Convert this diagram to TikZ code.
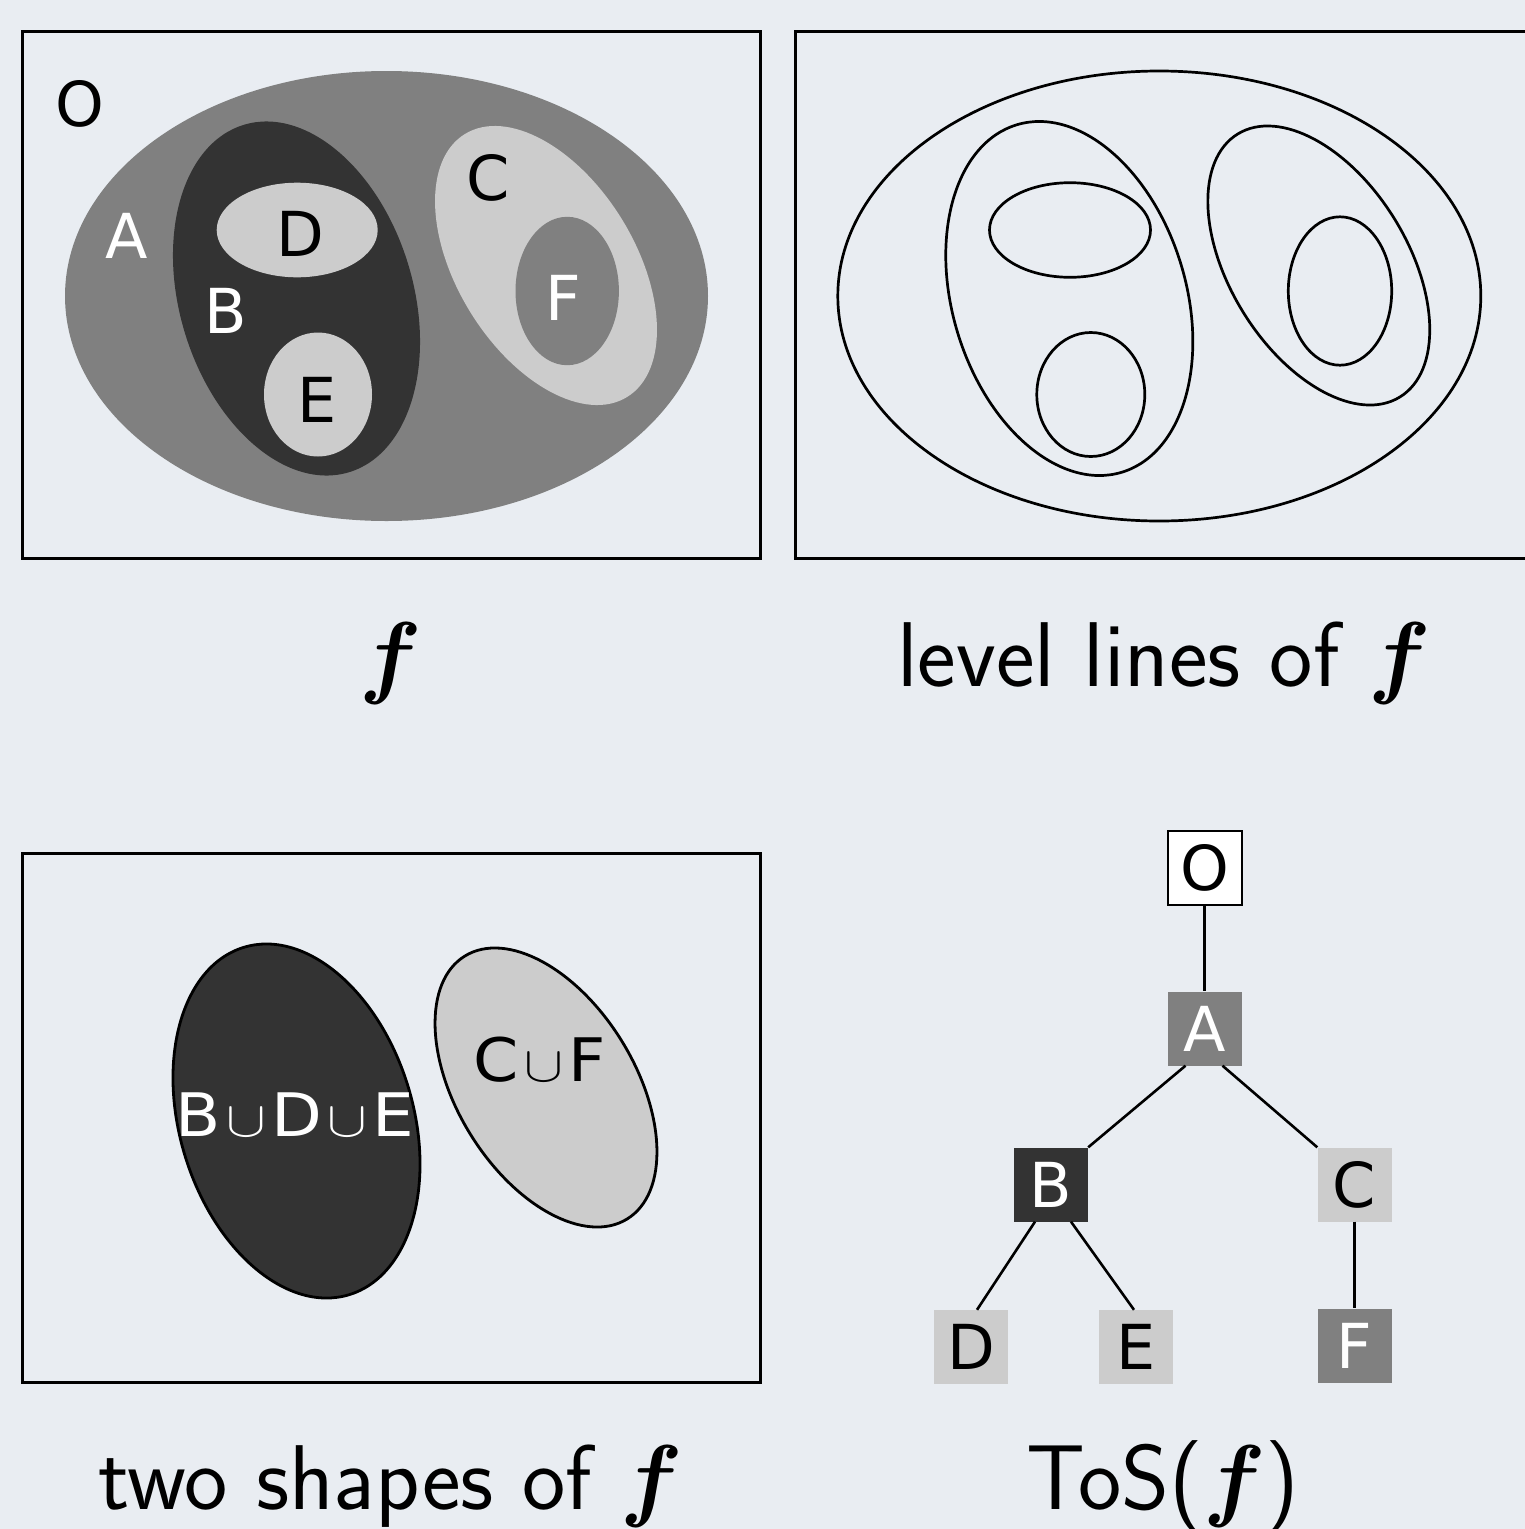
\documentclass[tikz,border=0pt]{standalone}
\usepackage{fontspec}
\newfontfamily\labfont{DejaVu Sans}
\definecolor{bg}{RGB}{233,237,242}
\definecolor{dk}{RGB}{51,51,51}
\definecolor{md}{RGB}{128,128,128}
\definecolor{lt}{RGB}{204,204,204}
\newcommand\cupx{\kern5pt{\fontsize{10}{12}\selectfont\scalebox{5.4}[5.0]{$\mathord{\cup}$}}\kern5pt}
\newcommand\bff{{\fontsize{10}{12}\selectfont\scalebox{9.2}{\boldmath$f$}}}
\begin{document}
\begin{tikzpicture}[x=1pt,y=-1pt,
  lab/.style={font=\labfont\fontsize{62}{70}\selectfont, inner sep=0pt},
  lab3/.style={font=\labfont\fontsize{60}{70}\selectfont, inner sep=0pt},
  captxt/.style={font=\sffamily\fontsize{92}{110}\selectfont, anchor=base, inner sep=0pt},
  panelframe/.style={draw=black, line width=3pt},
  lvl/.style={draw=black, line width=2.7pt},
  outl/.style={draw=black, line width=2.8pt},
  tbox/.style={minimum width=74pt, minimum height=74pt, inner sep=0pt, font=\labfont\fontsize{62}{70}\selectfont},
  tedge/.style={draw=black, line width=2.6pt}]
\fill[bg] (0,0) rectangle (1525,1529);
\useasboundingbox (0,0) rectangle (1525,1529);

% ---------- panel 1: f ----------
\draw[panelframe] (22.5,31) rectangle (760,558.5);
\fill[md] (386.5,296) ellipse [x radius=321.5, y radius=225];
\fill[dk, rotate around={-73.2:(296.5,298.5)}] (296.5,298.5) ellipse [x radius=181.5, y radius=116.8];
\fill[lt] (297.2,230) ellipse [x radius=80.5, y radius=47.3];
\fill[lt] (318,394.5) ellipse [x radius=54, y radius=62];
\fill[lt, rotate around={-58.3:(546,265.5)}] (546,265.5) ellipse [x radius=154.5, y radius=88.9];
\fill[md] (567.2,291) ellipse [x radius=51.7, y radius=74.2];
\node[lab] (lO) at (80,103.5) {O};
\node[lab, text=white] (lA) at (127,236) {A};
\node[lab] (lD) at (300,234) {D};
\node[lab, text=white] (lB) at (225.5,310.5) {B};
\node[lab] (lC) at (488,177.5) {C};
\node[lab, text=white] (lF) at (563.5,297.5) {F};
\node[lab] (lE) at (317,400) {E};

% ---------- panel 2: level lines ----------
\draw[panelframe] (1528,31) -| (795,558.5) -- (1528,558.5);
\begin{scope}[xshift=772.8pt]
\draw[lvl] (386.5,296) ellipse [x radius=321.5, y radius=225];
\draw[lvl, rotate around={-73.2:(296.5,298.5)}] (296.5,298.5) ellipse [x radius=181.5, y radius=116.8];
\draw[lvl] (297.2,230) ellipse [x radius=80.5, y radius=47.3];
\draw[lvl] (318,394.5) ellipse [x radius=54, y radius=62];
\draw[lvl, rotate around={-58.3:(546,265.5)}] (546,265.5) ellipse [x radius=154.5, y radius=88.9];
\draw[lvl] (567.2,291) ellipse [x radius=51.7, y radius=74.2];
\end{scope}

% ---------- panel 3: two shapes ----------
\draw[panelframe] (22.5,853.5) rectangle (760,1382);
\filldraw[fill=dk, outl, rotate around={-73.2:(296.5,1121)}] (296.5,1121) ellipse [x radius=181.5, y radius=116.8];
\filldraw[fill=lt, outl, rotate around={-58.3:(546,1087.5)}] (546,1087.5) ellipse [x radius=154.5, y radius=88.9];
\node[lab3, text=white] (lBDE) at (295,1115) {\scalebox{1.1}[1]{B\cupx D\cupx E}};
\node[lab3] (lCF) at (539.5,1060) {\scalebox{1.08}[1]{C\cupx F}};

% ---------- panel 4: tree ----------
\node[tbox, draw=black, line width=2pt, fill=white] (O) at (1204.5,868) {O};
\node[tbox, fill=md, text=white] (A) at (1204.5,1028.5) {A};
\node[tbox, fill=dk, text=white] (B) at (1051,1184.5) {B};
\node[tbox, fill=lt] (C) at (1354.5,1184.5) {C};
\node[tbox, fill=lt] (D) at (971,1347) {D};
\node[tbox, fill=lt] (E) at (1136,1347) {E};
\node[tbox, fill=md, text=white] (F) at (1354.5,1345.5) {F};
\draw[tedge] (O.south) -- (A.north);
\draw[tedge] ([xshift=-19pt]A.south) -- (B.north east);
\draw[tedge] ([xshift=18pt]A.south) -- (C.north west);
\draw[tedge] ([xshift=-16pt]B.south) -- ([xshift=6pt]D.north);
\draw[tedge] ([xshift=20pt]B.south) -- ([xshift=-2pt]E.north);
\draw[tedge] (C.south) -- (F.north);

% ---------- captions ----------
\node[captxt] (c1) at (391,686) {\bff};
\node[captxt] (c2) at (1164,686) {level lines of \bff};
\node[captxt] (c3) at (391,1509) {two shapes of \bff};
\node[captxt] (c4) at (1163,1509) {ToS(\bff)};
\end{tikzpicture}
\end{document}
